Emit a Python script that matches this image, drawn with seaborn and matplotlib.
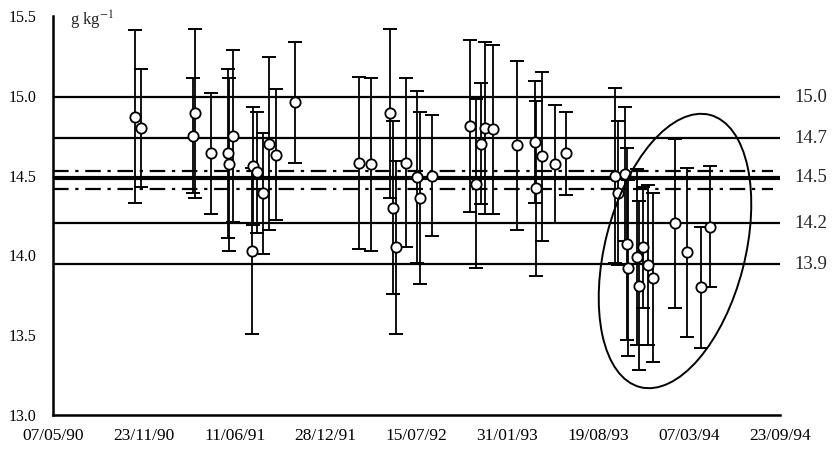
import numpy as np
import pandas as pd
import matplotlib
matplotlib.use("Agg")
import matplotlib.pyplot as plt
import matplotlib.dates as mdates
from matplotlib.patches import Ellipse
from matplotlib.transforms import Affine2D, blended_transform_factory
import seaborn as sns

# ---- data ----
start_date = "1990-05-07"
days = [180, 194, 308, 312, 348, 385, 387, 396, 438, 440, 449, 462, 475, 491, 533,
        673, 700, 742, 748, 755, 777, 801, 808, 834,
        918, 931, 942, 951, 968, 1021, 1061, 1062, 1076, 1105, 1129,
        1237, 1243, 1259, 1263, 1265, 1285, 1290, 1298, 1309, 1320,
        1369, 1395, 1426, 1446]
values = [14.87, 14.80, 14.75, 14.89, 14.64, 14.64, 14.57, 14.75, 14.03, 14.56, 14.52, 14.39, 14.70, 14.63, 14.96,
          14.58, 14.57, 14.89, 14.30, 14.05, 14.58, 14.49, 14.36, 14.50,
          14.81, 14.45, 14.70, 14.80, 14.79, 14.69, 14.71, 14.42, 14.62, 14.57, 14.64,
          14.50, 14.39, 14.51, 14.07, 13.92, 13.99, 13.81, 14.05, 13.94, 13.86,
          14.20, 14.02, 13.80, 14.18]
errors = [0.54, 0.37, 0.36, 0.53, 0.38, 0.53, 0.54, 0.54, 0.52, 0.37, 0.38, 0.38, 0.54, 0.41, 0.38,
          0.54, 0.54, 0.53, 0.54, 0.54, 0.53, 0.54, 0.54, 0.38,
          0.54, 0.53, 0.38, 0.54, 0.53, 0.53, 0.38, 0.55, 0.53, 0.37, 0.26,
          0.55, 0.45, 0.42, 0.60, 0.55, 0.55, 0.53, 0.38, 0.50, 0.53,
          0.53, 0.53, 0.38, 0.38]

ref_lines = [14.99, 14.735, 14.485, 14.203, 13.946]
ref_labels = ["15.0", "14.7", "14.5", "14.2", "13.9"]
ref_widths = [1.6, 1.6, 3.0, 1.6, 1.6]
band_lines = [14.53, 14.416]

xtick_step_days = 200
n_xticks = 9
ytick_values = [13.0, 13.5, 14.0, 14.5, 15.0, 15.5]

# ---- build table ----
t0 = pd.Timestamp(start_date)
df = pd.DataFrame({"date": t0 + pd.to_timedelta(days, unit="D"),
                   "value": values, "err": errors})
xticks = [t0 + pd.Timedelta(days=xtick_step_days * k) for k in range(n_xticks)]

sns.set_theme(style="white")
plt.rcParams["font.family"] = ["Liberation Serif", "DejaVu Serif"]
plt.rcParams["mathtext.fontset"] = "stix"

fig = plt.figure(figsize=(8.32, 4.51), dpi=100)
ax = fig.add_axes([53 / 832, 1 - 415 / 451, 727 / 832, 399 / 451])

# reference lines
for yv, lw in zip(ref_lines, ref_widths):
    ax.axhline(yv, color="black", lw=lw, zorder=1)
for yv in band_lines:
    ax.axhline(yv, xmax=0.99, color="black", lw=1.6, ls=(0, (7, 3, 1.5, 3)), zorder=1)

# error bars and points
ax.errorbar(df["date"], df["value"], yerr=df["err"], fmt="none", ecolor="black",
            elinewidth=1.3, capsize=5, capthick=1.4, zorder=2)
sns.scatterplot(data=df, x="date", y="value", ax=ax, s=55, color="white",
                edgecolor="black", linewidth=1.3, zorder=3, legend=False)

# axes formatting
ax.set_xlim(xticks[0], xticks[-1])
ax.set_ylim(13.0, 15.5)
ax.set_xticks(xticks)
ax.xaxis.set_major_formatter(mdates.DateFormatter("%d/%m/%y"))
ax.set_yticks(ytick_values)
ax.set_yticklabels([f"{v:.1f}" for v in ytick_values])
ax.set_xlabel("")
ax.set_ylabel("")
for s in ["top", "right"]:
    ax.spines[s].set_visible(False)
for s in ["left", "bottom"]:
    ax.spines[s].set_color("black")
    ax.spines[s].set_linewidth(1.8)
ax.tick_params(axis="both", direction="inout", length=10, width=1.5, colors="black")
ax.tick_params(axis="x", labelsize=12.5, pad=4)
ax.tick_params(axis="y", labelsize=11.5, pad=7)

# right-side labels
tr = blended_transform_factory(ax.transAxes, ax.transData)
for yv, lab in zip(ref_lines, ref_labels):
    ax.text(1.02, yv, lab, transform=tr, ha="left", va="center", fontsize=13.5)

# unit label
ax.text(0.023, 0.99, "g kg$^{-1}$", transform=ax.transAxes, ha="left", va="center", fontsize=12)

# ellipse around the last group
fig.canvas.draw()
bb = ax.get_window_extent()
px = Affine2D().scale(1 / bb.width, 1 / bb.height) + ax.transAxes
ax.add_patch(Ellipse((622, 164), width=140, height=281, angle=-14.4, transform=px,
                     fill=False, edgecolor="black", lw=1.4, zorder=4, clip_on=False))

fig.savefig("out.png", dpi=100, facecolor="white")
